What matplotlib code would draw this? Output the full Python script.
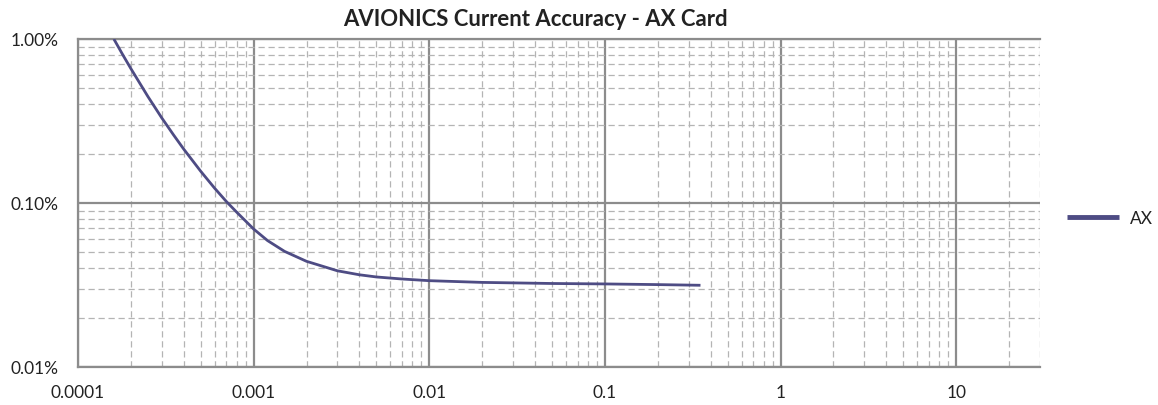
import matplotlib
matplotlib.use("Agg")
import matplotlib.pyplot as plt
from matplotlib.ticker import LogLocator, FixedLocator, NullFormatter, FuncFormatter

plt.rcParams['font.family'] = ['Lato', 'DejaVu Sans']

# Data (current in A, accuracy in %)
current = [0.00016, 0.00018, 0.0002, 0.00025, 0.0003, 0.00035, 0.0004, 0.0005,
           0.0006, 0.0007, 0.0008, 0.001, 0.0012, 0.0015, 0.002, 0.003, 0.004,
           0.005, 0.007, 0.01, 0.02, 0.05, 0.1, 0.2, 0.35]
accuracy = [1.00, 0.80, 0.66, 0.446, 0.330, 0.260, 0.213, 0.156,
            0.123, 0.102, 0.088, 0.0694, 0.059, 0.0507, 0.0441, 0.0386, 0.0365,
            0.0354, 0.0344, 0.0336, 0.0328, 0.0323, 0.0321, 0.0318, 0.0315]
series_name = "AX"
title = "AVIONICS Current Accuracy - AX Card"
x_ticks = [0.0001, 0.001, 0.01, 0.1, 1, 10]
x_tick_labels = ["0.0001", "0.001", "0.01", "0.1", "1", "10"]
y_ticks = [0.01, 0.1, 1.0]

fig = plt.figure(figsize=(11.58, 4.06), dpi=100)
ax = fig.add_axes([78/1158, 1-368/406, (1040-78)/1158, (368-40)/406])

ax.plot(current, accuracy, color='#4E4C84', lw=2.0, label=series_name, zorder=5,
        solid_joinstyle='round', solid_capstyle='butt')

ax.set_xscale('log')
ax.set_yscale('log')
ax.set_xlim(0.0001, 30)
ax.set_ylim(0.01, 1.0)

ax.xaxis.set_major_locator(FixedLocator(x_ticks))
ax.set_xticklabels(x_tick_labels)
ax.xaxis.set_minor_locator(LogLocator(base=10, subs=range(2, 10), numticks=20))
ax.xaxis.set_minor_formatter(NullFormatter())
ax.yaxis.set_major_locator(FixedLocator(y_ticks))
ax.yaxis.set_major_formatter(FuncFormatter(lambda v, p: f"{v:.2f}%"))
ax.yaxis.set_minor_locator(LogLocator(base=10, subs=range(2, 10), numticks=20))
ax.yaxis.set_minor_formatter(NullFormatter())

ax.grid(which='major', color='#8C8C8C', lw=1.6, ls='-')
ax.grid(which='minor', color='#B4B4B4', lw=0.9, ls=(0, (5, 3)))
ax.set_axisbelow(True)

ax.tick_params(which='both', length=0)
ax.tick_params(axis='x', pad=12, labelsize=12.5, colors='#222222')
ax.tick_params(axis='y', pad=14, labelsize=12.5, colors='#222222')

for s in ['left', 'top', 'bottom']:
    ax.spines[s].set_color('#8C8C8C')
    ax.spines[s].set_linewidth(1.6)
ax.spines['right'].set_visible(False)

fig.text(0.5*(343+727)/1158, 1-19/406, title, ha='center', va='center',
         fontsize=15.9, fontweight='bold', color='#222222')

leg = fig.legend(loc='center left', bbox_to_anchor=(1067/1158, 1-219/406),
                 frameon=False, fontsize=12.5, handlelength=3.0, handletextpad=0.6,
                 borderpad=0, borderaxespad=0)
for t in leg.get_texts():
    t.set_color('#222222')
for l in leg.get_lines():
    l.set_linewidth(3.5)

fig.savefig("out.png", dpi=100)
